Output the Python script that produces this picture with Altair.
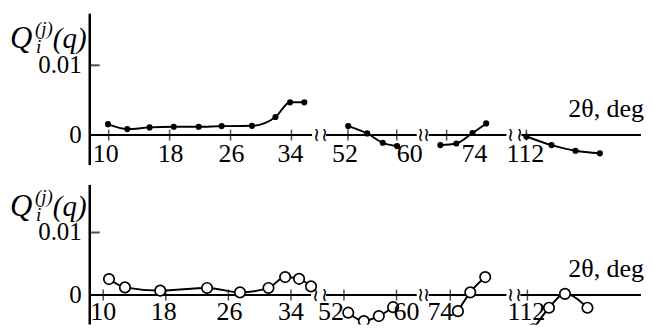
import altair as alt
import pandas as pd

# ---------------- data ----------------
# Upper panel: filled points, four pieces of a broken 2θ axis
top_deg_1 = [9.91, 12.45, 15.37, 18.55, 21.82, 24.83, 28.81, 31.90, 33.82, 35.69]
top_val_1 = [0.00157, 0.00086, 0.0011, 0.00119, 0.00119, 0.00129, 0.00133, 0.0026, 0.0047, 0.0047]
top_deg_2 = [52.05, 55.15, 57.71, 60.05]
top_val_2 = [0.00129, 0.00024, -0.0011, -0.00157]
top_deg_3 = [73.1, 75.39, 77.71, 79.67]
top_val_3 = [-0.00143, -0.0012, 0.0003, 0.00167]
top_deg_4 = [112.0, 115.6, 119.04, 122.53]
top_val_4 = [-0.0002, -0.00143, -0.00224, -0.00261]

# Lower panel: open circles
bot_deg_1 = [10.74, 12.78, 17.29, 23.27, 27.48, 31.12, 33.25, 35.03, 36.56]
bot_val_1 = [0.00256, 0.00123, 0.00071, 0.00114, 0.00044, 0.00114, 0.00288, 0.0026, 0.00139]
bot_deg_2 = [52.65, 55.03, 57.31, 59.48]
bot_val_2 = [-0.00281, -0.00414, -0.00335, -0.00193]
bot_deg_3 = [75.09, 76.86, 79.0]
bot_val_3 = [-0.00256, 0.00044, 0.00288]
bot_deg_4 = [112.86, 115.1, 117.39, 120.61]
bot_val_4 = [-0.00545, -0.00202, 0.00019, -0.00202]

# Axis tick values per axis piece
tick_values = [[10, 18, 26, 34], [52, 60], [74], [112]]
y_tick_values = [0.01, 0.0]
y_tick_labels = ["0.01", "0"]
x_title = "2θ,  deg"

# ---------------- layout of the broken axes (one per panel) ----------------
TOP_SEGS = [
    dict(ref_deg=10, ref_u=109, k=7.64, u0=90, u1=313),
    dict(ref_deg=52, ref_u=349, k=6.125, u0=327, u1=418),
    dict(ref_deg=74, ref_u=448, k=7.0, u0=430, u1=508),
    dict(ref_deg=112, ref_u=528, k=7.0, u0=523, u1=643),
]
BOT_SEGS = [
    dict(ref_deg=10, ref_u=103.5, k=7.85, u0=90, u1=312),
    dict(ref_deg=52, ref_u=345, k=6.59, u0=327, u1=418),
    dict(ref_deg=74, ref_u=451.7, k=7.0, u0=430, u1=508),
    dict(ref_deg=112, ref_u=529, k=7.0, u0=522, u1=643),
]
# horizontal nudge (px) of each tick label relative to its tick, as in the figure
TOP_LABEL_NUDGE = {10: -3, 18: 1, 26: 1, 34: -1, 52: -3, 60: 13, 74: 28, 112: -1}
BOT_LABEL_NUDGE = {10: 0, 18: -2, 26: 1, 34: 0, 52: -13, 60: 10, 74: -10, 112: -1}

U_DOMAIN = [8, 644]
FONT = "Liberation Serif"


def to_u(deg, s, segs):
    seg = segs[s]
    return seg["ref_u"] + (deg - seg["ref_deg"]) * seg["k"]


def panel(series, segs, nudge, ydom, height, filled, axis_top, axis_bottom, label_dy):
    xs = alt.Scale(domain=U_DOMAIN, nice=False, zero=False)
    ys = alt.Scale(domain=ydom, nice=False, zero=False)

    rows = []
    for s, (degs, vals) in enumerate(series):
        for d, v in zip(degs, vals):
            rows.append(dict(seg=s, deg=d, u=to_u(d, s, segs), val=v))
    df = pd.DataFrame(rows)

    X = alt.X("u:Q", scale=xs, axis=None)
    Y = alt.Y("val:Q", scale=ys, axis=None)

    line = alt.Chart(df).mark_line(
        interpolate="monotone", color="black", strokeWidth=1.9, clip=True
    ).encode(x=X, y=Y, detail="seg:N")

    if filled:
        pts = alt.Chart(df).mark_point(
            shape="circle", filled=True, color="black", size=38, opacity=1, clip=True
        ).encode(x=X, y=Y)
    else:
        pts = alt.Chart(df).mark_point(
            shape="circle", filled=True, fill="white", stroke="black",
            strokeWidth=1.7, size=110, opacity=1, clip=True
        ).encode(x=X, y=Y)

    # horizontal axis pieces
    axis_df = pd.DataFrame(
        {"u0": [s["u0"] for s in segs], "u1": [s["u1"] for s in segs], "val": 0.0}
    )
    xaxis = alt.Chart(axis_df).mark_rule(color="black", strokeWidth=2).encode(
        x=alt.X("u0:Q", scale=xs, axis=None), x2="u1:Q", y=Y
    )

    # vertical axis
    yaxis_df = pd.DataFrame({"u": [segs[0]["u0"]], "val": [axis_top], "val2": [axis_bottom]})
    yaxis = alt.Chart(yaxis_df).mark_rule(color="black", strokeWidth=2.5).encode(
        x=X, y=Y, y2="val2:Q"
    )

    # x ticks and labels
    trows = []
    for s, vals in enumerate(tick_values):
        for t in vals:
            u = to_u(t, s, segs)
            trows.append(dict(u=u, ul=u + nudge.get(t, 0), val=0.0, label=str(t)))
    tdf = pd.DataFrame(trows)
    xticks = alt.Chart(tdf).mark_tick(
        orient="vertical", size=11, thickness=1.5, color="black"
    ).encode(x=X, y=Y)
    xlabels = alt.Chart(tdf).mark_text(
        font=FONT, fontSize=26, baseline="top", dy=label_dy, color="black"
    ).encode(x=alt.X("ul:Q", scale=xs, axis=None), y=Y, text="label:N")

    # y ticks and labels
    ydf = pd.DataFrame(
        {"u": segs[0]["u0"], "val": y_tick_values, "label": y_tick_labels}
    )
    yticks = alt.Chart(ydf.iloc[:1]).mark_tick(
        orient="horizontal", size=10, thickness=2, xOffset=5, color="black"
    ).encode(x=X, y=Y)
    ylabels = alt.Chart(ydf).mark_text(
        font=FONT, fontSize=25, align="right", baseline="middle", dx=-8, color="black"
    ).encode(x=X, y=Y, text="label:N")

    # y title  Q_i^(j)(q), built of pieces around the 0.01 tick
    adf = pd.DataFrame({"u": [segs[0]["u0"]], "val": [y_tick_values[0]]})
    tQ = alt.Chart(adf).mark_text(
        text="Q", font=FONT, fontStyle="italic", fontSize=31, align="left",
        baseline="alphabetic", dx=-80, dy=-17, color="black"
    ).encode(x=X, y=Y)
    tj = alt.Chart(adf).mark_text(
        text="(j)", font=FONT, fontStyle="italic", fontSize=19, align="left",
        baseline="alphabetic", dx=-55, dy=-30, color="black"
    ).encode(x=X, y=Y)
    ti = alt.Chart(adf).mark_text(
        text="i", font=FONT, fontStyle="italic", fontSize=19, align="left",
        baseline="alphabetic", dx=-54, dy=-12, color="black"
    ).encode(x=X, y=Y)
    tq = alt.Chart(adf).mark_text(
        text="(q)", font=FONT, fontStyle="italic", fontSize=29, align="left",
        baseline="alphabetic", dx=-37, dy=-17, color="black"
    ).encode(x=X, y=Y)

    # x title
    xt_df = pd.DataFrame({"u": [segs[-1]["u1"]], "val": [0.0], "label": [x_title]})
    xtitle = alt.Chart(xt_df).mark_text(
        font=FONT, fontSize=26, align="right", baseline="alphabetic", dx=3, dy=-18,
        color="black"
    ).encode(x=X, y=Y, text="label:N")

    # axis break marks
    brows = []
    for i in range(len(segs) - 1):
        brows.append(dict(u=segs[i]["u1"] + 4, val=0.0))
        brows.append(dict(u=segs[i + 1]["u0"] - 2, val=0.0))
    bdf = pd.DataFrame(brows)
    breaks = alt.Chart(bdf).mark_text(
        text="≀", font="DejaVu Serif", fontSize=19, baseline="middle", color="black"
    ).encode(x=X, y=Y)

    return alt.layer(
        xaxis, yaxis, xticks, yticks, line, pts, xlabels, ylabels,
        tQ, tj, ti, tq, xtitle, breaks
    ).properties(width=U_DOMAIN[1] - U_DOMAIN[0], height=height)


# upper panel: page rows 8..173, zero at 135, 70 px per 0.01
top = panel(
    [(top_deg_1, top_val_1), (top_deg_2, top_val_2), (top_deg_3, top_val_3), (top_deg_4, top_val_4)],
    TOP_SEGS, TOP_LABEL_NUDGE,
    [-0.005429, 0.018143], 165, True, 0.0174, -0.0043, 6,
)
# lower panel: page rows 173..325, zero at 295.5, 62.8 px per 0.01
bottom = panel(
    [(bot_deg_1, bot_val_1), (bot_deg_2, bot_val_2), (bot_deg_3, bot_val_3), (bot_deg_4, bot_val_4)],
    BOT_SEGS, BOT_LABEL_NUDGE,
    [-0.004697, 0.019506], 152, False, 0.0176, -0.004697, 4,
)

chart = alt.vconcat(top, bottom, spacing=0).properties(
    padding=0, background="white"
).configure_view(stroke=None)

chart.save("out.html", embed_options={"renderer": "svg", "actions": False})
